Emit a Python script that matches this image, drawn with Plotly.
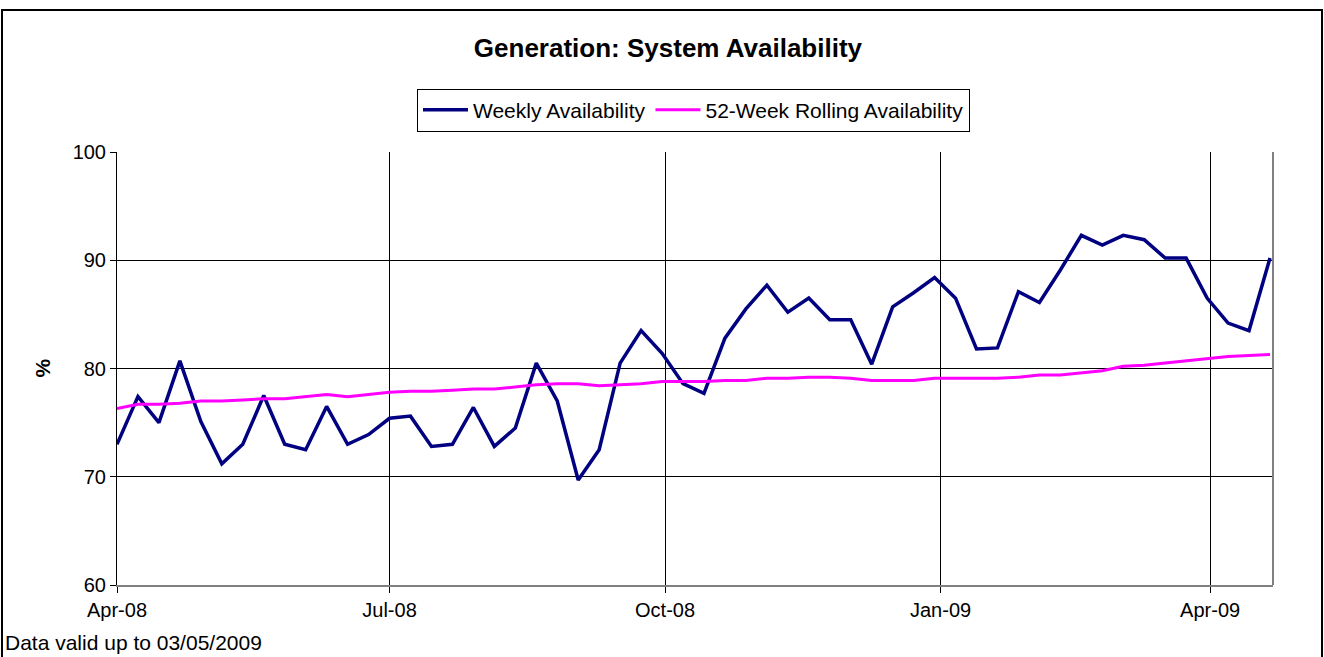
import datetime as dt
import plotly.graph_objects as go

start_date = dt.date(2008, 4, 1)
n_weeks = 56
dates = [start_date + dt.timedelta(days=7 * i) for i in range(n_weeks)]

weekly_availability = [
    73.0, 77.4, 75.0, 80.7, 75.1, 71.2, 73.0, 77.5, 73.0, 72.5,
    76.5, 73.0, 73.9, 75.4, 75.6, 72.8, 73.0, 76.4, 72.8, 74.5,
    80.5, 77.0, 69.7, 72.5, 80.5, 83.5, 81.4, 78.6, 77.7, 82.8,
    85.5, 87.7, 85.2, 86.5, 84.5, 84.5, 80.4, 85.7, 87.0, 88.4,
    86.5, 81.8, 81.9, 87.1, 86.1, 89.1, 92.3, 91.4, 92.3, 91.9,
    90.2, 90.2, 86.5, 84.2, 83.5, 90.2,
]

rolling_availability = [
    76.3, 76.7, 76.7, 76.8, 77.0, 77.0, 77.1, 77.2, 77.2, 77.4,
    77.6, 77.4, 77.6, 77.8, 77.9, 77.9, 78.0, 78.1, 78.1, 78.3,
    78.5, 78.6, 78.6, 78.4, 78.5, 78.6, 78.8, 78.8, 78.8, 78.9,
    78.9, 79.1, 79.1, 79.2, 79.2, 79.1, 78.9, 78.9, 78.9, 79.1,
    79.1, 79.1, 79.1, 79.2, 79.4, 79.4, 79.6, 79.8, 80.2, 80.3,
    80.5, 80.7, 80.9, 81.1, 81.2, 81.3,
]

series_names = ["Weekly Availability", "52-Week Rolling Availability"]
y_ticks = [60, 70, 80, 90, 100]
title_text = "Generation: System Availability"
footnote_text = "Data valid up to 03/05/2009"

FONT = "Arial, Liberation Sans, sans-serif"

fig = go.Figure()
fig.add_trace(go.Scatter(x=dates, y=weekly_availability, mode="lines",
                         name=series_names[0],
                         line=dict(color="#000080", width=3.5)))
fig.add_trace(go.Scatter(x=dates, y=rolling_availability, mode="lines",
                         name=series_names[1],
                         line=dict(color="#FF00FF", width=3)))

W, H = 1324, 657
L, R, T, B = 117, 51, 152, 72
pw, ph = W - L - R, H - T - B

def px(xp):
    return (xp - L) / pw

def py(yp):
    return (H - B - yp) / ph

fig.update_layout(
    width=W, height=H,
    margin=dict(l=L, r=R, t=T, b=B, pad=0),
    paper_bgcolor="white", plot_bgcolor="white",
    font=dict(family=FONT, color="black", size=20),
    title=dict(text="<b>" + title_text + "</b>", x=0.5045, xref="container",
               xanchor="center", y=1 - 48 / H, yref="container", yanchor="middle",
               font=dict(size=26, family=FONT, color="black")),
    showlegend=True,
    legend=dict(orientation="h", x=px(693.5), xanchor="center", y=py(110),
                yanchor="middle", bordercolor="black", borderwidth=1,
                bgcolor="white", font=dict(size=21, family=FONT),
                itemwidth=45, tracegroupgap=0),
    xaxis=dict(type="date", range=["2008-04-01", "2009-04-22"],
               tick0="2008-04-01", dtick="M3", tickformat="%b-%y",
               showgrid=True, gridcolor="black", gridwidth=1,
               ticks="outside", ticklen=6, tickcolor="black",
               showline=True, linecolor="#808080", linewidth=2,
               tickfont=dict(size=20), zeroline=False),
    yaxis=dict(range=[60, 100], tickvals=y_ticks, showgrid=True,
               gridcolor="black", gridwidth=1, ticks="outside", ticklen=6,
               tickcolor="black", showline=True, linecolor="black",
               linewidth=1, tickfont=dict(size=20), zeroline=False),
    shapes=[
        dict(type="line", xref="paper", yref="paper", x0=1, x1=1, y0=0, y1=1,
             line=dict(color="#808080", width=2)),
        dict(type="rect", xref="paper", yref="paper",
             x0=px(2), x1=px(1322), y0=py(662), y1=py(10),
             line=dict(color="black", width=2), layer="above"),
    ],
    annotations=[
        dict(text="<b>%</b>", xref="paper", yref="paper", x=px(42), y=0.5,
             textangle=-90, showarrow=False, xanchor="center", yanchor="middle",
             font=dict(size=21, family=FONT)),
        dict(text=footnote_text, xref="paper", yref="paper", x=px(3), y=py(642),
             showarrow=False, xanchor="left", yanchor="middle",
             font=dict(size=21, family=FONT)),
    ],
)

fig.write_html("out.html", config={"displayModeBar": False},
               post_script="document.body.style.margin='0';document.body.style.overflow='hidden';")
